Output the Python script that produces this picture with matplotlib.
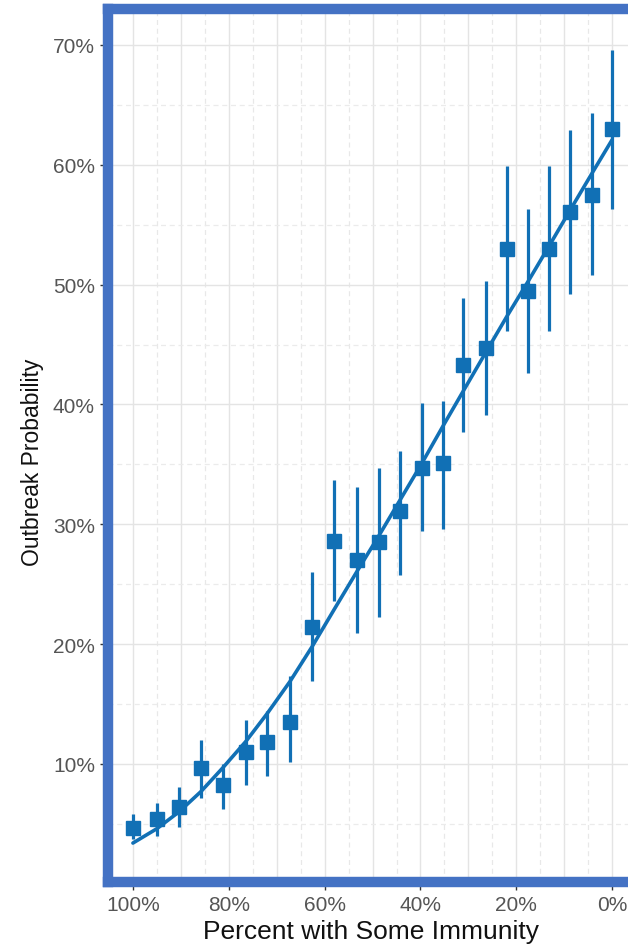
import matplotlib
matplotlib.use("Agg")
import matplotlib.pyplot as plt
import numpy as np

plt.rcParams['font.family'] = ['Liberation Sans', 'DejaVu Sans']

# ---- data ----
immunity = [100.0, 95.0, 90.4, 85.8, 81.2, 76.4, 72.0, 67.2, 62.6, 58.0,
            53.2, 48.6, 44.3, 39.7, 35.3, 31.1, 26.3, 21.9, 17.5, 13.2,
            8.8, 4.2, 0.0]
prob = [4.67, 5.43, 6.43, 9.68, 8.26, 11.0, 11.85, 13.5, 21.4, 28.6,
        27.0, 28.5, 31.1, 34.7, 35.1, 43.3, 44.7, 53.0, 49.5, 53.0,
        56.1, 57.5, 63.0]
prob_low = [3.7, 4.0, 4.76, 7.2, 6.26, 8.26, 9.0, 10.2, 16.9, 23.6,
            20.9, 22.3, 25.8, 29.4, 29.6, 37.7, 39.1, 46.1, 42.6, 46.1,
            49.2, 50.8, 56.3]
prob_high = [5.84, 6.76, 8.1, 12.0, 10.0, 13.7, 14.4, 17.3, 26.0, 33.7,
             33.1, 34.7, 36.1, 40.1, 40.3, 48.9, 50.3, 59.9, 56.3, 59.9,
             62.9, 64.3, 69.6]
fit = [3.4, 4.6, 6.0, 7.7, 9.7, 11.9, 14.2, 16.9, 19.8, 22.9,
       26.1, 29.1, 32.0, 35.1, 38.2, 41.1, 44.4, 47.4, 50.3, 53.2,
       56.2, 59.3, 62.1]
xticks = [100, 80, 60, 40, 20, 0]
xticklabels = ['100%', '80%', '60%', '40%', '20%', '0%']
yticks = [10, 20, 30, 40, 50, 60, 70]
yticklabels = ['10%', '20%', '30%', '40%', '50%', '60%', '70%']

blue = '#1170b5'
border = '#4472C4'

fig = plt.figure(figsize=(6.28, 9.45), dpi=100)
W, H = 628, 945
ax = fig.add_axes([108 / W, 1 - 883 / H, (640 - 108) / W, (883 - 10) / H])

ax.set_xlim(105.2, -5.8)
ax.set_ylim(0.15, 73.0)

# grid
for v in np.arange(0, 101, 10):
    ax.axvline(v, color='#e4e4e4', lw=1.0, zorder=0)
for v in np.arange(5, 101, 10):
    ax.axvline(v, color='#e8e8e8', lw=0.9, ls=(0, (4, 3)), zorder=0)
for v in np.arange(0, 71, 10):
    ax.axhline(v, color='#e4e4e4', lw=1.0, zorder=0)
for v in np.arange(5, 75, 10):
    ax.axhline(v, color='#ebebeb', lw=0.9, ls=(0, (4, 3)), zorder=0)

ylo = np.array(prob) - np.array(prob_low)
yhi = np.array(prob_high) - np.array(prob)
ax.errorbar(immunity, prob, yerr=[ylo, yhi], fmt='s', color=blue, ecolor=blue,
            elinewidth=2.3, capsize=0, markersize=9.5, zorder=3)
ax.plot(immunity, fit, color=blue, lw=2.6, zorder=4, solid_capstyle='round')

ax.set_xticks(xticks)
ax.set_xticklabels(xticklabels)
ax.set_yticks(yticks)
ax.set_yticklabels(yticklabels)
ax.tick_params(axis='both', which='major', length=6, width=1.0, color='#333333',
               labelsize=15, labelcolor='#555555', direction='out')
ax.tick_params(axis='y', pad=3.4)
ax.tick_params(axis='x', pad=3.5)

for s in ['left', 'top', 'bottom', 'right']:
    ax.spines[s].set_color(border)
    ax.spines[s].set_linewidth(7.5)
    ax.spines[s].set_zorder(10)

fig.text(371 / W, 1 - 932 / H, 'Percent with Some Immunity', fontsize=19,
         ha='center', va='center', color='#111111')
fig.text(33 / W, 1 - 462 / H, 'Outbreak Probability', fontsize=16.5,
         ha='center', va='center', rotation=90, color='#111111')

fig.savefig('out.png', dpi=100)
